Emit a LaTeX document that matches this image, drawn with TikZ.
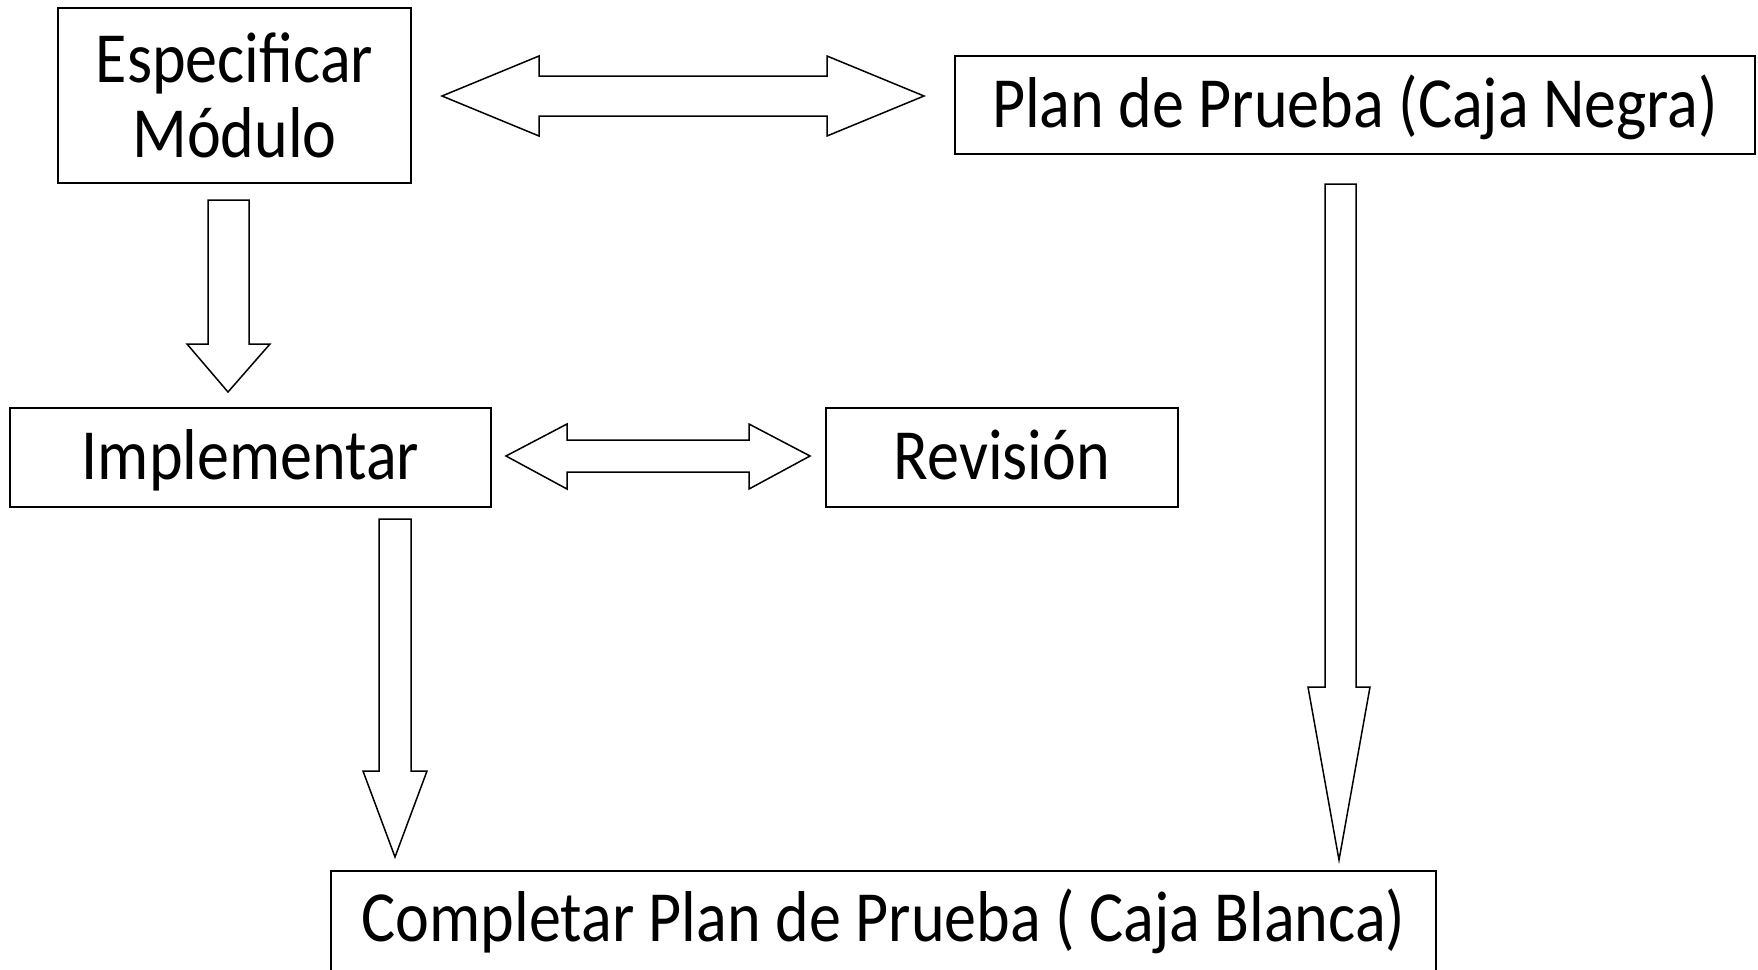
\documentclass[tikz,border=0pt]{standalone}
\usepackage{fontspec}
\setmainfont{Carlito}[FakeStretch=0.89]
\begin{document}
\begin{tikzpicture}[x=1pt,y=-1pt,
  box/.style={draw, line width=2.2pt, inner sep=0pt, font=\fontsize{72}{75}\selectfont},
  blockarrow/.style={draw, line width=1.5pt, fill=white, line join=miter}]
\useasboundingbox (0,0) rectangle (1758,969);
\node[box, minimum width=353pt, minimum height=175pt, align=center] (esp) at (234.5,95.5) {Especificar\\Módulo};
\node[box, minimum width=800pt, minimum height=98pt, text height=50pt, text depth=6pt] (neg) at (1355,105) {Plan de Prueba (Caja Negra)};
\node[box, minimum width=481pt, minimum height=99pt, text height=49pt, text depth=6pt] (imp) at (250.5,457.5) {Implementar};
\node[box, minimum width=352pt, minimum height=99pt, text height=49pt, text depth=6pt] (rev) at (1002,457.5) {Revisión};
\node[box, minimum width=1105pt, minimum height=120pt, text height=40pt, text depth=20pt] (comp) at (883.5,931) {Completar Plan de Prueba ( Caja Blanca)};
% Especificar <-> Plan de Prueba (Caja Negra)
\draw[blockarrow] (442,96) -- (539,56) -- (539,76) -- (827,76) -- (827,56) -- (924,96)
  -- (827,136) -- (827,116) -- (539,116) -- (539,136) -- cycle;
% Implementar <-> Revision
\draw[blockarrow] (506,456) -- (567,424) -- (567,440) -- (749,440) -- (749,424) -- (810,456)
  -- (749,489) -- (749,472) -- (567,472) -- (567,489) -- cycle;
% Especificar -> Implementar
\draw[blockarrow] (208,200) -- (249,200) -- (249,344) -- (270,344) -- (228,392) -- (187,344) -- (208,344) -- cycle;
% Implementar -> Completar
\draw[blockarrow] (379,519) -- (411,519) -- (411,771) -- (427,771) -- (395,857) -- (363,771) -- (379,771) -- cycle;
% Caja Negra -> Completar
\draw[blockarrow] (1325,184) -- (1356,184) -- (1356,687) -- (1370,687) -- (1339,860) -- (1308,687) -- (1325,687) -- cycle;
\end{tikzpicture}
\end{document}
